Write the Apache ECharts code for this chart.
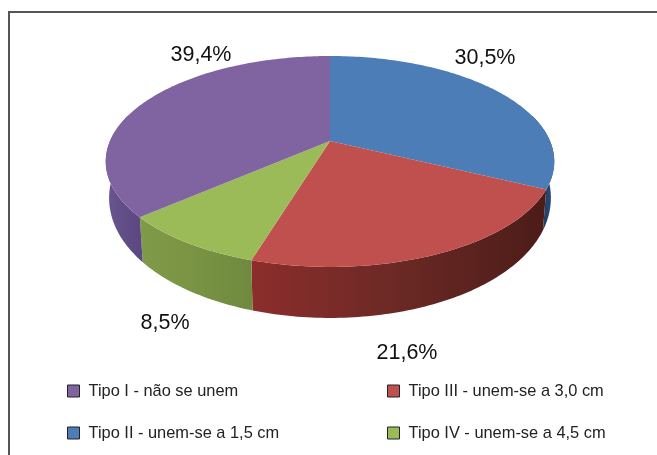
<!DOCTYPE html>
<html>
<head>
<meta charset="utf-8">
<script src="https://cdn.jsdelivr.net/npm/echarts@6/dist/echarts.min.js"></script>
<style>
html, body { margin: 0; padding: 0; background: #fff; }
#chart { width: 657px; height: 455px; }
</style>
</head>
<body>
<div id="chart"></div>
<script>
var categories = ['Tipo II - unem-se a 1,5 cm', 'Tipo III - unem-se a 3,0 cm', 'Tipo IV - unem-se a 4,5 cm', 'Tipo I - não se unem'];
// size of each slice as it is drawn in the picture, clockwise from the top
var drawnShares = [32.2, 22.5, 8.9, 36.4];
// the percentages printed next to the slices, they differ a bit from the drawing
var printedLabels = ['30,5%', '21,6%', '8,5%', '39,4%'];

var topColors = ['#4c7db6', '#c0504d', '#9bbb59', '#8064a2'];
var wallColors = [
    ['#1c3556', '#1f3a5f', '#2a4f7c'],
    ['#8c2d2b', '#6e2a26', '#4c1c18'],
    ['#7f9a49', '#7a9444', '#6f8a3e'],
    ['#6a5590', '#624f88', '#5a4780']
];
var labelSpots = [[485, 58], [407, 353], [165, 323], [201, 55]];

// perspective view of the disc
var apexX = 330, apexY = 141, scaleX = 220, scaleY = 101.5, tilt = 0.194;

function rimPoint(deg, bottom) {
    var a = deg * Math.PI / 180;
    var X = Math.sin(a), Y = Math.cos(a);
    var w = 1 + tilt * Y;
    var x = X * scaleX / w;
    var y = -Y * scaleY / w;
    if (bottom) {
        return [apexX + x * 0.985, apexY + y + 33 - 18 * Y];
    }
    return [apexX + x, apexY + y];
}

function sliceRange(i) {
    var total = 0, before = 0;
    for (var k = 0; k < drawnShares.length; k++) {
        total += drawnShares[k];
        if (k < i) before += drawnShares[k];
    }
    return [before / total * 360, (before + drawnShares[i]) / total * 360];
}

function renderTop(i) {
    return function () {
        var range = sliceRange(i);
        var pts = [[apexX, apexY]];
        for (var d = range[0]; d < range[1]; d += 1) pts.push(rimPoint(d));
        pts.push(rimPoint(range[1]));
        return {
            type: 'group',
            children: [{
                type: 'polygon',
                shape: { points: pts },
                style: { fill: topColors[i] }
            }, {
                type: 'text',
                x: labelSpots[i][0],
                y: labelSpots[i][1],
                style: {
                    text: printedLabels[i],
                    fill: '#111',
                    font: '21.5px "Liberation Sans", Arial, sans-serif',
                    align: 'center',
                    verticalAlign: 'middle'
                }
            }]
        };
    };
}

function renderWall(i) {
    return function () {
        var range = sliceRange(i);
        var from = Math.max(range[0], 75), to = Math.min(range[1], 285);
        var upper = [], lower = [];
        for (var d = from; d < to; d += 1) {
            upper.push(rimPoint(d));
            lower.push(rimPoint(d, true));
        }
        upper.push(rimPoint(to));
        lower.push(rimPoint(to, true));
        return {
            type: 'polygon',
            shape: { points: upper.concat(lower.reverse()) },
            style: {
                fill: new echarts.graphic.LinearGradient(0, 0, 1, 0, [
                    { offset: 0, color: wallColors[i][0] },
                    { offset: 0.45, color: wallColors[i][1] },
                    { offset: 1, color: wallColors[i][2] }
                ])
            }
        };
    };
}

var series = [];
for (var i = 0; i < categories.length; i++) {
    series.push({
        type: 'custom',
        coordinateSystem: 'none',
        silent: true,
        z: 1,
        data: [[drawnShares[i]]],
        renderItem: renderWall(i)
    });
    series.push({
        type: 'custom',
        name: categories[i],
        coordinateSystem: 'none',
        silent: true,
        z: 2,
        itemStyle: { color: topColors[i] },
        data: [[drawnShares[i]]],
        renderItem: renderTop(i)
    });
}

function legendAt(name, left, top) {
    return {
        data: [name],
        left: left,
        top: top,
        padding: 0,
        icon: 'rect',
        itemWidth: 12,
        itemHeight: 12,
        itemGap: 0,
        selectedMode: false,
        itemStyle: { borderColor: '#222', borderWidth: 1 },
        textStyle: {
            color: '#222',
            fontSize: 16.4,
            fontFamily: '"Liberation Sans", Arial, sans-serif',
            padding: [0, 0, 0, 4]
        }
    };
}

var chart = echarts.init(document.getElementById('chart'), null, { renderer: 'canvas' });
chart.setOption({
    animation: false,
    backgroundColor: '#fff',
    legend: [
        legendAt(categories[3], 67, 383),
        legendAt(categories[0], 67, 425),
        legendAt(categories[1], 387, 383),
        legendAt(categories[2], 387, 425)
    ],
    graphic: [{
        type: 'polyline',
        shape: { points: [[9, 455], [9, 12], [657, 12]] },
        style: { stroke: '#555', lineWidth: 2, fill: null }
    }],
    series: series
});
</script>
</body>
</html>
